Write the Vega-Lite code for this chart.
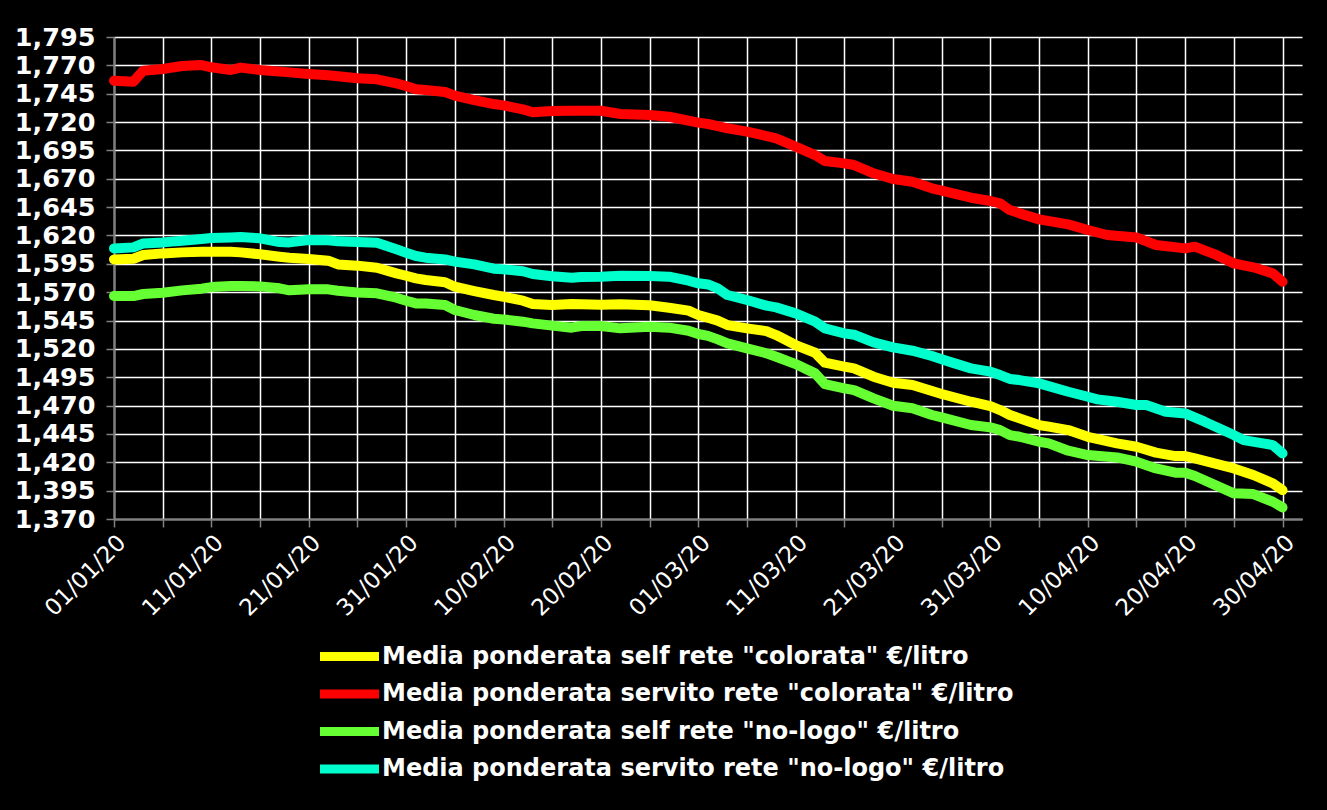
{
  "$schema": "https://vega.github.io/schema/vega-lite/v6.json",
  "width": 1188,
  "height": 482,
  "autosize": {"type": "none"},
  "padding": {"left": 114, "top": 37, "right": 25, "bottom": 291},
  "background": "black",
  "config": {"view": {"stroke": null}, "font": "DejaVu Sans"},
  "data": {"values": [
    {"t":"2020-01-01","s":"b","v":1.7565},{"t":"2020-01-03","s":"b","v":1.7556},{"t":"2020-01-04","s":"b","v":1.7653},{"t":"2020-01-06","s":"b","v":1.7668},{"t":"2020-01-08","s":"b","v":1.7694},{"t":"2020-01-10","s":"b","v":1.7703},{"t":"2020-01-11","s":"b","v":1.7683},{"t":"2020-01-13","s":"b","v":1.7659},{"t":"2020-01-14","s":"b","v":1.768},{"t":"2020-01-16","s":"b","v":1.7659},{"t":"2020-01-19","s":"b","v":1.7638},{"t":"2020-01-21","s":"b","v":1.7624},{"t":"2020-01-23","s":"b","v":1.7612},{"t":"2020-01-26","s":"b","v":1.7586},{"t":"2020-01-28","s":"b","v":1.7577},{"t":"2020-01-30","s":"b","v":1.7541},{"t":"2020-01-31","s":"b","v":1.7518},{"t":"2020-02-01","s":"b","v":1.7489},{"t":"2020-02-02","s":"b","v":1.7483},{"t":"2020-02-04","s":"b","v":1.7465},{"t":"2020-02-05","s":"b","v":1.7433},{"t":"2020-02-07","s":"b","v":1.7394},{"t":"2020-02-09","s":"b","v":1.7359},{"t":"2020-02-10","s":"b","v":1.7347},{"t":"2020-02-12","s":"b","v":1.7312},{"t":"2020-02-13","s":"b","v":1.7286},{"t":"2020-02-15","s":"b","v":1.7297},{"t":"2020-02-17","s":"b","v":1.73},{"t":"2020-02-20","s":"b","v":1.73},{"t":"2020-02-22","s":"b","v":1.7271},{"t":"2020-02-25","s":"b","v":1.7262},{"t":"2020-02-27","s":"b","v":1.7247},{"t":"2020-03-01","s":"b","v":1.7195},{"t":"2020-03-02","s":"b","v":1.7183},{"t":"2020-03-03","s":"b","v":1.7165},{"t":"2020-03-04","s":"b","v":1.7145},{"t":"2020-03-06","s":"b","v":1.7115},{"t":"2020-03-08","s":"b","v":1.7077},{"t":"2020-03-09","s":"b","v":1.7056},{"t":"2020-03-11","s":"b","v":1.6983},{"t":"2020-03-13","s":"b","v":1.6909},{"t":"2020-03-14","s":"b","v":1.6857},{"t":"2020-03-16","s":"b","v":1.6836},{"t":"2020-03-17","s":"b","v":1.6821},{"t":"2020-03-19","s":"b","v":1.6748},{"t":"2020-03-21","s":"b","v":1.6698},{"t":"2020-03-23","s":"b","v":1.6674},{"t":"2020-03-25","s":"b","v":1.6616},{"t":"2020-03-26","s":"b","v":1.6595},{"t":"2020-03-29","s":"b","v":1.6533},{"t":"2020-03-31","s":"b","v":1.6504},{"t":"2020-04-01","s":"b","v":1.6483},{"t":"2020-04-02","s":"b","v":1.6424},{"t":"2020-04-03","s":"b","v":1.6395},{"t":"2020-04-05","s":"b","v":1.6342},{"t":"2020-04-08","s":"b","v":1.6298},{"t":"2020-04-10","s":"b","v":1.6248},{"t":"2020-04-12","s":"b","v":1.6204},{"t":"2020-04-15","s":"b","v":1.6183},{"t":"2020-04-17","s":"b","v":1.6116},{"t":"2020-04-20","s":"b","v":1.6086},{"t":"2020-04-21","s":"b","v":1.6101},{"t":"2020-04-23","s":"b","v":1.6036},{"t":"2020-04-25","s":"b","v":1.5954},{"t":"2020-04-27","s":"b","v":1.5919},{"t":"2020-04-29","s":"b","v":1.5866},{"t":"2020-04-30","s":"b","v":1.5792},

    {"t":"2020-01-01","s":"d","v":1.6086},{"t":"2020-01-03","s":"d","v":1.6095},{"t":"2020-01-04","s":"d","v":1.613},{"t":"2020-01-06","s":"d","v":1.6139},{"t":"2020-01-08","s":"d","v":1.6154},{"t":"2020-01-10","s":"d","v":1.6169},{"t":"2020-01-11","s":"d","v":1.6177},{"t":"2020-01-13","s":"d","v":1.6183},{"t":"2020-01-14","s":"d","v":1.6186},{"t":"2020-01-16","s":"d","v":1.6175},{"t":"2020-01-18","s":"d","v":1.6142},{"t":"2020-01-19","s":"d","v":1.6139},{"t":"2020-01-21","s":"d","v":1.616},{"t":"2020-01-23","s":"d","v":1.6157},{"t":"2020-01-24","s":"d","v":1.6148},{"t":"2020-01-26","s":"d","v":1.6142},{"t":"2020-01-28","s":"d","v":1.6136},{"t":"2020-01-30","s":"d","v":1.6078},{"t":"2020-01-31","s":"d","v":1.6048},{"t":"2020-02-01","s":"d","v":1.6019},{"t":"2020-02-02","s":"d","v":1.6004},{"t":"2020-02-04","s":"d","v":1.5989},{"t":"2020-02-05","s":"d","v":1.5969},{"t":"2020-02-07","s":"d","v":1.5945},{"t":"2020-02-09","s":"d","v":1.5907},{"t":"2020-02-10","s":"d","v":1.5901},{"t":"2020-02-12","s":"d","v":1.5884},{"t":"2020-02-13","s":"d","v":1.586},{"t":"2020-02-15","s":"d","v":1.584},{"t":"2020-02-17","s":"d","v":1.5828},{"t":"2020-02-18","s":"d","v":1.5834},{"t":"2020-02-20","s":"d","v":1.5837},{"t":"2020-02-22","s":"d","v":1.5845},{"t":"2020-02-25","s":"d","v":1.5842},{"t":"2020-02-27","s":"d","v":1.5837},{"t":"2020-02-29","s":"d","v":1.5801},{"t":"2020-03-01","s":"d","v":1.5778},{"t":"2020-03-02","s":"d","v":1.5768},{"t":"2020-03-03","s":"d","v":1.5734},{"t":"2020-03-04","s":"d","v":1.5675},{"t":"2020-03-06","s":"d","v":1.5631},{"t":"2020-03-08","s":"d","v":1.5581},{"t":"2020-03-09","s":"d","v":1.5566},{"t":"2020-03-11","s":"d","v":1.5513},{"t":"2020-03-13","s":"d","v":1.544},{"t":"2020-03-14","s":"d","v":1.5381},{"t":"2020-03-16","s":"d","v":1.5337},{"t":"2020-03-17","s":"d","v":1.5325},{"t":"2020-03-19","s":"d","v":1.5258},{"t":"2020-03-21","s":"d","v":1.5213},{"t":"2020-03-23","s":"d","v":1.5184},{"t":"2020-03-25","s":"d","v":1.5137},{"t":"2020-03-26","s":"d","v":1.5108},{"t":"2020-03-27","s":"d","v":1.5081},{"t":"2020-03-29","s":"d","v":1.5028},{"t":"2020-03-31","s":"d","v":1.4999},{"t":"2020-04-01","s":"d","v":1.4969},{"t":"2020-04-02","s":"d","v":1.4935},{"t":"2020-04-03","s":"d","v":1.4925},{"t":"2020-04-05","s":"d","v":1.4896},{"t":"2020-04-08","s":"d","v":1.4822},{"t":"2020-04-10","s":"d","v":1.4778},{"t":"2020-04-11","s":"d","v":1.4755},{"t":"2020-04-13","s":"d","v":1.4734},{"t":"2020-04-15","s":"d","v":1.4705},{"t":"2020-04-16","s":"d","v":1.4705},{"t":"2020-04-18","s":"d","v":1.4646},{"t":"2020-04-20","s":"d","v":1.4631},{"t":"2020-04-22","s":"d","v":1.4558},{"t":"2020-04-25","s":"d","v":1.444},{"t":"2020-04-26","s":"d","v":1.4396},{"t":"2020-04-28","s":"d","v":1.4367},{"t":"2020-04-29","s":"d","v":1.4352},{"t":"2020-04-30","s":"d","v":1.4279},

    {"t":"2020-01-01","s":"a","v":1.5989},{"t":"2020-01-03","s":"a","v":1.5995},{"t":"2020-01-04","s":"a","v":1.6028},{"t":"2020-01-06","s":"a","v":1.6042},{"t":"2020-01-08","s":"a","v":1.6051},{"t":"2020-01-10","s":"a","v":1.6057},{"t":"2020-01-11","s":"a","v":1.6057},{"t":"2020-01-13","s":"a","v":1.6057},{"t":"2020-01-14","s":"a","v":1.6051},{"t":"2020-01-16","s":"a","v":1.6034},{"t":"2020-01-18","s":"a","v":1.6013},{"t":"2020-01-19","s":"a","v":1.6004},{"t":"2020-01-21","s":"a","v":1.5992},{"t":"2020-01-23","s":"a","v":1.5978},{"t":"2020-01-24","s":"a","v":1.5945},{"t":"2020-01-26","s":"a","v":1.5934},{"t":"2020-01-28","s":"a","v":1.5916},{"t":"2020-01-30","s":"a","v":1.5866},{"t":"2020-01-31","s":"a","v":1.5845},{"t":"2020-02-01","s":"a","v":1.5822},{"t":"2020-02-02","s":"a","v":1.5807},{"t":"2020-02-04","s":"a","v":1.5787},{"t":"2020-02-05","s":"a","v":1.5748},{"t":"2020-02-07","s":"a","v":1.571},{"t":"2020-02-09","s":"a","v":1.5675},{"t":"2020-02-10","s":"a","v":1.566},{"t":"2020-02-12","s":"a","v":1.5625},{"t":"2020-02-13","s":"a","v":1.5596},{"t":"2020-02-15","s":"a","v":1.5587},{"t":"2020-02-17","s":"a","v":1.5596},{"t":"2020-02-18","s":"a","v":1.5593},{"t":"2020-02-20","s":"a","v":1.559},{"t":"2020-02-22","s":"a","v":1.5593},{"t":"2020-02-25","s":"a","v":1.5584},{"t":"2020-02-27","s":"a","v":1.5563},{"t":"2020-02-29","s":"a","v":1.5537},{"t":"2020-03-01","s":"a","v":1.5499},{"t":"2020-03-02","s":"a","v":1.5475},{"t":"2020-03-03","s":"a","v":1.5449},{"t":"2020-03-04","s":"a","v":1.541},{"t":"2020-03-06","s":"a","v":1.5381},{"t":"2020-03-08","s":"a","v":1.5357},{"t":"2020-03-09","s":"a","v":1.5322},{"t":"2020-03-11","s":"a","v":1.5234},{"t":"2020-03-13","s":"a","v":1.5166},{"t":"2020-03-14","s":"a","v":1.5078},{"t":"2020-03-16","s":"a","v":1.5043},{"t":"2020-03-17","s":"a","v":1.5028},{"t":"2020-03-19","s":"a","v":1.4955},{"t":"2020-03-21","s":"a","v":1.4902},{"t":"2020-03-23","s":"a","v":1.4881},{"t":"2020-03-25","s":"a","v":1.4828},{"t":"2020-03-26","s":"a","v":1.4802},{"t":"2020-03-29","s":"a","v":1.4734},{"t":"2020-03-31","s":"a","v":1.4696},{"t":"2020-04-01","s":"a","v":1.4661},{"t":"2020-04-02","s":"a","v":1.4617},{"t":"2020-04-03","s":"a","v":1.4587},{"t":"2020-04-05","s":"a","v":1.4528},{"t":"2020-04-06","s":"a","v":1.4514},{"t":"2020-04-08","s":"a","v":1.4484},{"t":"2020-04-10","s":"a","v":1.4425},{"t":"2020-04-13","s":"a","v":1.4367},{"t":"2020-04-15","s":"a","v":1.4337},{"t":"2020-04-17","s":"a","v":1.4285},{"t":"2020-04-19","s":"a","v":1.4255},{"t":"2020-04-20","s":"a","v":1.4255},{"t":"2020-04-21","s":"a","v":1.4235},{"t":"2020-04-25","s":"a","v":1.4146},{"t":"2020-04-27","s":"a","v":1.4088},{"t":"2020-04-29","s":"a","v":1.4014},{"t":"2020-04-30","s":"a","v":1.3955},

    {"t":"2020-01-01","s":"c","v":1.5666},{"t":"2020-01-03","s":"c","v":1.5666},{"t":"2020-01-04","s":"c","v":1.5684},{"t":"2020-01-06","s":"c","v":1.5695},{"t":"2020-01-08","s":"c","v":1.5716},{"t":"2020-01-10","s":"c","v":1.5731},{"t":"2020-01-11","s":"c","v":1.5745},{"t":"2020-01-13","s":"c","v":1.5754},{"t":"2020-01-14","s":"c","v":1.5754},{"t":"2020-01-16","s":"c","v":1.5751},{"t":"2020-01-18","s":"c","v":1.5734},{"t":"2020-01-19","s":"c","v":1.5716},{"t":"2020-01-21","s":"c","v":1.5725},{"t":"2020-01-23","s":"c","v":1.5725},{"t":"2020-01-24","s":"c","v":1.5713},{"t":"2020-01-26","s":"c","v":1.5698},{"t":"2020-01-28","s":"c","v":1.569},{"t":"2020-01-30","s":"c","v":1.5651},{"t":"2020-01-31","s":"c","v":1.5625},{"t":"2020-02-01","s":"c","v":1.5601},{"t":"2020-02-02","s":"c","v":1.5601},{"t":"2020-02-04","s":"c","v":1.5587},{"t":"2020-02-05","s":"c","v":1.5543},{"t":"2020-02-07","s":"c","v":1.5499},{"t":"2020-02-09","s":"c","v":1.5466},{"t":"2020-02-10","s":"c","v":1.546},{"t":"2020-02-12","s":"c","v":1.544},{"t":"2020-02-13","s":"c","v":1.5425},{"t":"2020-02-15","s":"c","v":1.5405},{"t":"2020-02-17","s":"c","v":1.5387},{"t":"2020-02-18","s":"c","v":1.5402},{"t":"2020-02-20","s":"c","v":1.5402},{"t":"2020-02-22","s":"c","v":1.5381},{"t":"2020-02-25","s":"c","v":1.5396},{"t":"2020-02-27","s":"c","v":1.5387},{"t":"2020-02-29","s":"c","v":1.536},{"t":"2020-03-01","s":"c","v":1.5331},{"t":"2020-03-02","s":"c","v":1.5315},{"t":"2020-03-03","s":"c","v":1.5284},{"t":"2020-03-04","s":"c","v":1.5249},{"t":"2020-03-06","s":"c","v":1.5205},{"t":"2020-03-08","s":"c","v":1.5161},{"t":"2020-03-09","s":"c","v":1.5131},{"t":"2020-03-11","s":"c","v":1.5066},{"t":"2020-03-13","s":"c","v":1.4984},{"t":"2020-03-14","s":"c","v":1.489},{"t":"2020-03-16","s":"c","v":1.4852},{"t":"2020-03-17","s":"c","v":1.4837},{"t":"2020-03-19","s":"c","v":1.4764},{"t":"2020-03-21","s":"c","v":1.4699},{"t":"2020-03-23","s":"c","v":1.4676},{"t":"2020-03-25","s":"c","v":1.4617},{"t":"2020-03-26","s":"c","v":1.4596},{"t":"2020-03-29","s":"c","v":1.4529},{"t":"2020-03-31","s":"c","v":1.4508},{"t":"2020-04-01","s":"c","v":1.4484},{"t":"2020-04-02","s":"c","v":1.444},{"t":"2020-04-03","s":"c","v":1.4425},{"t":"2020-04-05","s":"c","v":1.4381},{"t":"2020-04-06","s":"c","v":1.4367},{"t":"2020-04-08","s":"c","v":1.4302},{"t":"2020-04-10","s":"c","v":1.4264},{"t":"2020-04-13","s":"c","v":1.4243},{"t":"2020-04-15","s":"c","v":1.4205},{"t":"2020-04-17","s":"c","v":1.4146},{"t":"2020-04-19","s":"c","v":1.4108},{"t":"2020-04-20","s":"c","v":1.4108},{"t":"2020-04-21","s":"c","v":1.4079},{"t":"2020-04-25","s":"c","v":1.3926},{"t":"2020-04-27","s":"c","v":1.392},{"t":"2020-04-29","s":"c","v":1.3852},{"t":"2020-04-30","s":"c","v":1.3802}
  ]},
  "mark": {"type": "line", "strokeWidth": 10, "strokeCap": "round", "strokeJoin": "round", "clip": false},
  "encoding": {
    "x": {
      "field": "t", "type": "temporal",
      "scale": {"type": "utc", "domain": [{"year": 2020, "month": 1, "date": 1, "utc": true}, {"year": 2020, "month": 5, "date": 2, "utc": true}]},
      "axis": {
        "title": null,
        "values": [
          {"year":2020,"month":1,"date":1,"utc":true},{"year":2020,"month":1,"date":6,"utc":true},{"year":2020,"month":1,"date":11,"utc":true},{"year":2020,"month":1,"date":16,"utc":true},{"year":2020,"month":1,"date":21,"utc":true},{"year":2020,"month":1,"date":26,"utc":true},{"year":2020,"month":1,"date":31,"utc":true},
          {"year":2020,"month":2,"date":5,"utc":true},{"year":2020,"month":2,"date":10,"utc":true},{"year":2020,"month":2,"date":15,"utc":true},{"year":2020,"month":2,"date":20,"utc":true},{"year":2020,"month":2,"date":25,"utc":true},
          {"year":2020,"month":3,"date":1,"utc":true},{"year":2020,"month":3,"date":6,"utc":true},{"year":2020,"month":3,"date":11,"utc":true},{"year":2020,"month":3,"date":16,"utc":true},{"year":2020,"month":3,"date":21,"utc":true},{"year":2020,"month":3,"date":26,"utc":true},{"year":2020,"month":3,"date":31,"utc":true},
          {"year":2020,"month":4,"date":5,"utc":true},{"year":2020,"month":4,"date":10,"utc":true},{"year":2020,"month":4,"date":15,"utc":true},{"year":2020,"month":4,"date":20,"utc":true},{"year":2020,"month":4,"date":25,"utc":true},{"year":2020,"month":4,"date":30,"utc":true}
        ],
        "labelExpr": "round((datum.value - utc(2020,0,1)) / 86400000) % 10 == 0 ? utcFormat(datum.value, '%d/%m/%y') : ''",
        "labelAngle": -45,
        "labelColor": "white",
        "labelFont": "DejaVu Sans",
        "labelFontSize": 23,
        "labelPadding": 4,
        "labelOverlap": false,
        "labelFlush": false,
        "labelBound": false,
        "grid": true,
        "gridColor": "white",
        "gridWidth": 1.5,
        "gridOpacity": 1,
        "domainColor": "#808080",
        "domainWidth": 2,
        "tickColor": "#808080",
        "tickSize": 8,
        "tickWidth": 1.5
      }
    },
    "y": {
      "field": "v", "type": "quantitative",
      "scale": {"domain": [1.37, 1.795], "zero": false, "nice": false},
      "axis": {
        "title": null,
        "values": [1.37, 1.395, 1.42, 1.445, 1.47, 1.495, 1.52, 1.545, 1.57, 1.595, 1.62, 1.645, 1.67, 1.695, 1.72, 1.745, 1.77, 1.795],
        "labelExpr": "replace(format(datum.value, '.3f'), '.', ',')",
        "labelColor": "white",
        "labelFont": "DejaVu Sans",
        "labelFontSize": 25.5,
        "labelFontWeight": "bold",
        "labelPadding": 11,
        "labelOverlap": false,
        "labelFlush": false,
        "labelBound": false,
        "grid": true,
        "gridColor": "white",
        "gridWidth": 1.5,
        "gridOpacity": 1,
        "domainColor": "#808080",
        "domainWidth": 2,
        "tickColor": "#808080",
        "tickSize": 8,
        "tickWidth": 1.5
      }
    },
    "color": {
      "field": "s", "type": "nominal",
      "scale": {"domain": ["a", "b", "c", "d"], "range": ["#FFFF00", "#FF0000", "#66FF33", "#00FFCC"]},
      "legend": {
        "title": null,
        "orient": "none",
        "legendX": 221,
        "legendY": 605,
        "direction": "vertical",
        "symbolType": "M-2.95,0H2.95",
        "symbolSize": 400,
        "symbolStrokeWidth": 9,
        "labelColor": "white",
        "labelFont": "DejaVu Sans",
        "labelFontSize": 24,
        "labelFontWeight": "bold",
        "labelOffset": 18,
        "labelLimit": 0,
        "rowPadding": 0.5,
        "labelExpr": "datum.label == 'a' ? 'Media ponderata self rete \"colorata\" €/litro' : datum.label == 'b' ? 'Media ponderata servito rete \"colorata\" €/litro' : datum.label == 'c' ? 'Media ponderata self rete \"no-logo\" €/litro' : 'Media ponderata servito rete \"no-logo\" €/litro'"
      }
    }
  }
}
